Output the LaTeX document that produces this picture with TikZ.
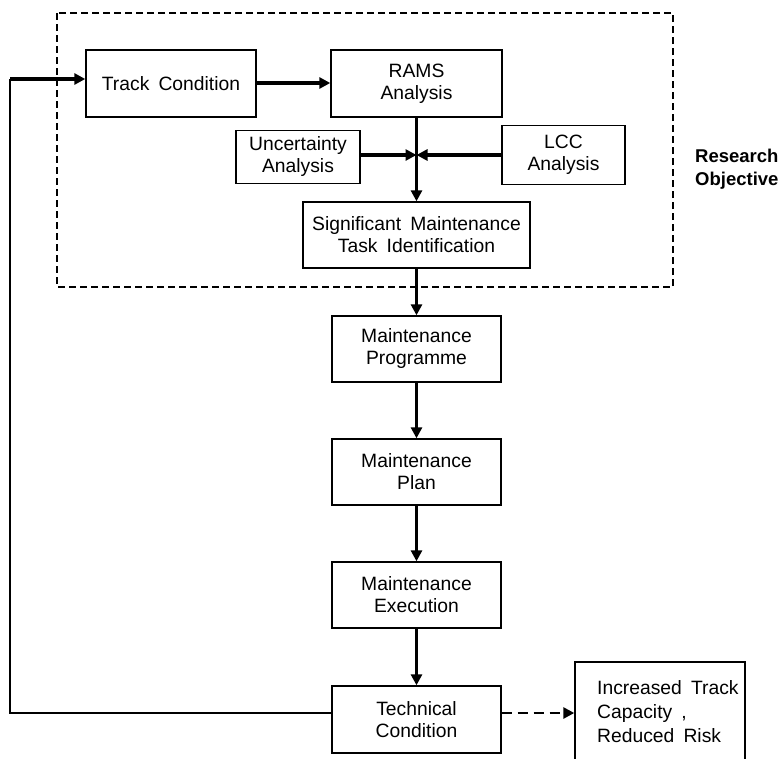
\documentclass[tikz,border=0pt]{standalone}
\usepackage{fontspec}
\setmainfont{Liberation Sans}[WordSpace=1.7]
\usetikzlibrary{arrows.meta,calc}
\begin{document}
\begin{tikzpicture}[x=1pt,y=-1pt,
  every node/.style={font=\fontsize{19.3}{22}\selectfont},
  box/.style={draw, line width=1.4pt, fill=white, align=center, inner sep=0pt},
  flow/.style={line width=3.2pt, -{Triangle[length=11pt,width=11pt]}},
  thinline/.style={line width=1.5pt},
  dashflow/.style={line width=2.6pt, dash pattern=on 10pt off 6pt, -{Triangle[length=11pt,width=11pt]}},
  region/.style={line width=2.3pt, dash pattern=on 7pt off 4pt}]
\useasboundingbox (0,0) rectangle (784,758);

% research-objective boundary
\draw[region] (57,13) rectangle (673,287);
\node[anchor=north west, align=left, inner sep=0pt, font=\fontsize{18.5}{23}\selectfont\bfseries]
  (obj) at (695,149) {Research\\Objective};

% process boxes
\node[box, minimum width=170pt, minimum height=67pt] (track) at (171,83.5) {Track Condition};
\node[box, minimum width=171pt, minimum height=67pt] (rams) at (416.5,83.5) {RAMS\\Analysis};
\node[box, minimum width=124pt, minimum height=53pt] (unc) at (298,157) {Uncertainty\\Analysis};
\node[box, minimum width=123pt, minimum height=59pt] (lcc) at (563.5,155) {LCC\\Analysis};
\node[box, minimum width=227pt, minimum height=66pt] (smti) at (416.5,235) {Significant Maintenance\\Task Identification};
\node[box, minimum width=169pt, minimum height=66pt] (prog) at (416.5,349) {Maintenance\\Programme};
\node[box, minimum width=169pt, minimum height=66pt] (plan) at (416.5,472) {Maintenance\\Plan};
\node[box, minimum width=169pt, minimum height=66pt] (exec) at (416.5,595) {Maintenance\\Execution};
\node[box, minimum width=169pt, minimum height=67pt] (tech) at (416.5,719.5) {Technical\\Condition};
\node[box, minimum width=170pt, minimum height=110pt] (gain) at (660,717) {};
\node[anchor=north west, align=left, inner sep=0pt, font=\fontsize{19.3}{24}\selectfont]
  (gaintext) at (597,680) {Increased Track\\Capacity ,\\Reduced Risk};

% junction where the analyses merge
\coordinate (j) at (rams.south |- lcc.west);

% connectors
\draw[flow] (track.east |- 0,83) -- (rams.west |- 0,83);
\draw[flow] (rams.south) -- (smti.north);
\draw[flow] (unc.east |- j) -- (j);
\draw[flow] (lcc.west |- j) -- (j);
\draw[flow] (smti.south) -- (prog.north);
\draw[flow] (prog.south) -- (plan.north);
\draw[flow] (plan.south) -- (exec.north);
\draw[flow] (exec.south) -- (tech.north);
\draw[dashflow] (tech.east |- 0,713) -- (gain.west |- 0,713);

% feedback loop
\coordinate (fbb) at (10,713);
\coordinate (fbt) at (10,79);
\draw[thinline] (tech.west |- fbb) -- (fbb) -- (fbt);
\draw[flow] (fbt) -- (track.west |- fbt);
\end{tikzpicture}
\end{document}
